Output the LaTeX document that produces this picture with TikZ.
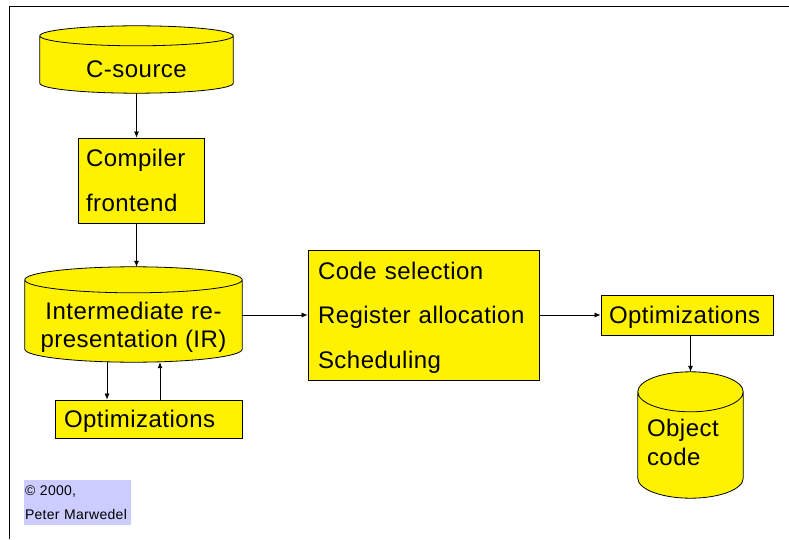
\documentclass[tikz,border=0pt]{standalone}
\usepackage{fontspec}
\setmainfont{Liberation Sans}[LetterSpace=2]
\usetikzlibrary{calc}
\usetikzlibrary{arrows.meta}
\usetikzlibrary{backgrounds}

% cylinder drawn around the front part of a node: #1 node, #2 end radius
\newcommand{\drumaround}[2]{%
  \path let \p1=(#1.north west), \p2=(#1.south east), \n1={(\x2-\x1)/2} in
    [draw, line width=0.8pt, fill=yellow]
    (\x1,\y1+#2pt) -- (\x1,\y2+#2pt)
    arc[start angle=180, end angle=360, x radius=\n1, y radius=#2pt]
    -- (\x2,\y1+#2pt)
    arc[start angle=0, end angle=180, x radius=\n1, y radius=#2pt] -- cycle
    (\x1,\y1+#2pt)
    arc[start angle=180, end angle=360, x radius=\n1, y radius=#2pt];
}

\begin{document}
\begin{tikzpicture}[x=1pt, y=1pt,
    box/.style={draw, line width=0.8pt, fill=yellow, inner sep=0pt, align=left, font=\fontsize{24}{44.5}\selectfont},
    drum/.style={inner sep=0pt, align=center, font=\fontsize{24}{28.5}\selectfont},
    arr/.style={-{Latex[length=6pt,width=5pt]}, line width=0.7pt}]

\useasboundingbox (0,0) rectangle (789,539);

% Frame
\draw[line width=1pt] (9,0) -- (9,532) -- (789,532);

% Front end
\node[drum, minimum width=193, minimum height=47] (csrc) at (136.5,469.5) {C-source};
\node[box, minimum width=126, minimum height=85, text width=110, text depth=44.5pt] (cfe) at (141,358.5) {Compiler\\frontend};

% Intermediate representation
\node[drum, minimum width=217, minimum height=69] (ir) at (133.5,211.5) {Intermediate re-\\presentation (IR)};
\node[box, minimum width=187, minimum height=38, text width=169, text depth=0pt] (opt1) at (148.5,120) {Optimizations};

% Back end
\node[box, minimum width=231, minimum height=130, text width=211, text depth=89pt] (back) at (423.5,224) {Code selection\\Register allocation\\Scheduling};
\node[box, minimum width=172, minimum height=40, text width=156, text depth=0pt] (opt2) at (687,224) {Optimizations};
\node[drum, minimum width=105, minimum height=86, align=left, text width=87, text depth=54pt, font=\fontsize{24}{29}\selectfont] (obj) at (690.5,84) {Object\\code};

% Cylinders
\begin{scope}[on background layer]
\drumaround{csrc}{10}
\drumaround{ir}{13}
\drumaround{obj}{20}
\end{scope}

% Flow
\draw[arr] (csrc.south) -- (csrc.south |- cfe.north);
\draw[arr] (csrc.south |- cfe.south) -- ($(csrc.south |- ir.north)+(0,26)$);
\draw[arr] (ir.south -| 107,0) -- (opt1.north -| 107,0);
\draw[arr] (opt1.north -| 160,0) -- (ir.south -| 160,0);
\draw[arr] (ir.east |- back.west) -- (back.west);
\draw[arr] (back.east |- opt2.west) -- (opt2.west);
\draw[arr] (obj.north |- opt2.south) -- ($(obj.north)+(0,40)$);

% Copyright
\node[fill={rgb,255:red,204;green,204;blue,255}, minimum width=107, minimum height=45, inner sep=1pt, text width=105, align=left, font=\fontsize{14}{24.5}\selectfont] (copy) at (77.5,36.5) {© 2000,\\Peter Marwedel};

\end{tikzpicture}
\end{document}
